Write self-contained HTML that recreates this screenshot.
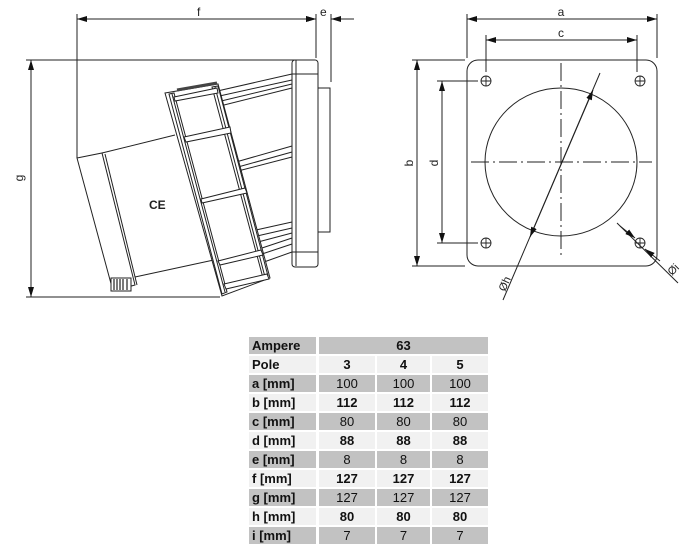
<!DOCTYPE html>
<html><head><meta charset="utf-8"><style>
body{margin:0;width:696px;height:556px;background:#fff;position:relative;overflow:hidden;font-family:"Liberation Sans",Arial,sans-serif}
.c{position:absolute;height:17px;line-height:17px;font-size:13px;color:#111;text-align:center}
.g{background:#c2c2c2}.l{background:#f1f1f1}
.lb{text-align:left;padding-left:3px;font-weight:bold;box-sizing:border-box}
.b{font-weight:bold}
</style></head><body>
<svg width="696" height="556" style="position:absolute;left:0;top:0" fill="none" stroke="#222" stroke-width="1">
<defs><marker id="ar" viewBox="0 0 10 6" refX="10" refY="3" markerWidth="10" markerHeight="6" orient="auto-start-reverse" markerUnits="userSpaceOnUse"><path d="M0,0L10,3L0,6z" fill="#111" stroke="none"/></marker></defs>
<!-- left dims -->
<line x1="77" y1="14" x2="77" y2="158"/>
<line x1="316" y1="14" x2="316" y2="58"/>
<line x1="331" y1="14" x2="331" y2="82"/>
<line x1="77" y1="19" x2="316" y2="19" marker-start="url(#ar)" marker-end="url(#ar)"/>
<line x1="305" y1="19" x2="316" y2="19" marker-end="url(#ar)"/>
<line x1="354" y1="19" x2="331" y2="19" marker-end="url(#ar)"/>
<line x1="26" y1="60" x2="314" y2="60"/>
<line x1="26" y1="297" x2="220" y2="297"/>
<line x1="31" y1="60" x2="31" y2="297" marker-start="url(#ar)" marker-end="url(#ar)"/>
<text x="197" y="16" font-size="12" fill="#222" stroke="none">f</text>
<text x="320" y="16" font-size="12" fill="#222" stroke="none">e</text>
<text x="23" y="178" font-size="12" fill="#222" stroke="none" transform="rotate(-90 23 178)" text-anchor="middle">g</text>
<!-- body -->
<polygon points="77,158 102,153 135,285 113,291"/>
<line x1="102" y1="153" x2="175" y2="135"/>
<line x1="105" y1="154" x2="137" y2="285"/>
<line x1="135" y1="277" x2="223" y2="258"/>
<rect x="111" y="278" width="20" height="13" fill="#fff" stroke="#222"/>
<path d="M114,279v11M117,279v11M120,279v11M123,279v11M127,279v11" stroke-width="1.2"/>
<text x="149" y="209" font-size="12" font-weight="bold" fill="#222" stroke="none">CE</text>
<!-- ribs -->
<path d="M213,92L292,74M215,97L292,80M217,102L292,84M220,106L292,88M236,162L292,146M238,167L292,152M238,171L292,157M256,230L292,222M257,236L292,228M258,242L292,233M262,248L292,238M262,254L292,244M264,262L292,252"/>
<!-- ladder -->
<polygon points="165,93 218,84 270,278 222,296" fill="#fff"/>
<polygon points="169,94 174,93 227,292 222,294"/>
<polygon points="212,87 218,86 268,276 263,278"/>
<line x1="172" y1="94" x2="225" y2="292"/>
<line x1="215" y1="87" x2="265" y2="277"/>
<path d="M174,97L217,88L218,93L175,101z M184,137L230,127L231,133L186,142z M201,199L245,188L247,193L202,203z M218,261L261,250L263,255L220,265z M224,284L267,274L269,279L226,289z" fill="#fff"/>
<path d="M177,90L217,83" stroke-width="3" stroke="#444"/>
<!-- plate -->
<rect x="292" y="60" width="26" height="207" rx="3" fill="#fff"/>
<line x1="296" y1="60" x2="296" y2="266"/>
<line x1="292" y1="74" x2="318" y2="74"/>
<line x1="292" y1="252" x2="318" y2="252"/>
<rect x="318" y="88" width="12" height="144"/>
<!-- right view -->
<rect x="467" y="60" width="190" height="206" rx="11"/>
<ellipse cx="561" cy="162" rx="76" ry="74"/>
<line x1="561" y1="63" x2="561" y2="258" stroke-dasharray="18,4,2,4"/>
<line x1="471" y1="162" x2="652" y2="162" stroke-dasharray="18,4,2,4"/>
<g stroke-width="0.9">
<circle cx="486" cy="81" r="5"/><path d="M481,81h10M486,76v10"/>
<circle cx="640" cy="81" r="5"/><path d="M635,81h10M640,76v10"/>
<circle cx="486" cy="243" r="5"/><path d="M481,243h10M486,238v10"/>
<circle cx="640" cy="243" r="5"/><path d="M635,243h10M640,238v10"/>
</g>
<line x1="467" y1="14" x2="467" y2="58"/>
<line x1="657" y1="14" x2="657" y2="58"/>
<line x1="467" y1="19" x2="657" y2="19" marker-start="url(#ar)" marker-end="url(#ar)"/>
<line x1="486" y1="35" x2="486" y2="72"/>
<line x1="637" y1="35" x2="637" y2="72"/>
<line x1="486" y1="40" x2="637" y2="40" marker-start="url(#ar)" marker-end="url(#ar)"/>
<line x1="412" y1="60" x2="465" y2="60"/>
<line x1="412" y1="266" x2="465" y2="266"/>
<line x1="417" y1="60" x2="417" y2="266" marker-start="url(#ar)" marker-end="url(#ar)"/>
<line x1="437" y1="81" x2="478" y2="81"/>
<line x1="437" y1="243" x2="478" y2="243"/>
<line x1="442" y1="81" x2="442" y2="243" marker-start="url(#ar)" marker-end="url(#ar)"/>
<line x1="503" y1="300" x2="600" y2="73"/>
<line x1="530" y1="237" x2="593" y2="90" marker-start="url(#ar)" marker-end="url(#ar)"/>
<line x1="617" y1="223" x2="678" y2="283"/>
<line x1="620" y1="226" x2="635" y2="238" marker-end="url(#ar)"/>
<line x1="660" y1="261" x2="645" y2="249" marker-end="url(#ar)"/>
<text x="561" y="16" font-size="12" fill="#222" stroke="none" text-anchor="middle">a</text>
<text x="561" y="37" font-size="12" fill="#222" stroke="none" text-anchor="middle">c</text>
<text x="413" y="163" font-size="12" fill="#222" stroke="none" transform="rotate(-90 413 163)" text-anchor="middle">b</text>
<text x="438" y="163" font-size="12" fill="#222" stroke="none" transform="rotate(-90 438 163)" text-anchor="middle">d</text>
<text x="505" y="292" font-size="11" fill="#222" stroke="none" transform="rotate(-66 505 292)">Øh</text>
<text x="672" y="276" font-size="11" fill="#222" stroke="none" transform="rotate(-45 672 276)">Øi</text>
</svg>
<!-- table -->
<div class="c g lb" style="left:249px;top:337px;width:67px">Ampere</div>
<div class="c g b" style="left:319px;top:337px;width:169px">63</div>
<div class="c l lb" style="left:249px;top:356px;width:67px">Pole</div>
<div class="c l b" style="left:319px;top:356px;width:56px">3</div>
<div class="c l b" style="left:377px;top:356px;width:53px">4</div>
<div class="c l b" style="left:432px;top:356px;width:56px">5</div>

<div class="c g lb" style="left:249px;top:375px;width:67px">a [mm]</div>
<div class="c g" style="left:319px;top:375px;width:56px">100</div><div class="c g" style="left:377px;top:375px;width:53px">100</div><div class="c g" style="left:432px;top:375px;width:56px">100</div>
<div class="c l lb" style="left:249px;top:394px;width:67px">b [mm]</div>
<div class="c l b" style="left:319px;top:394px;width:56px">112</div><div class="c l b" style="left:377px;top:394px;width:53px">112</div><div class="c l b" style="left:432px;top:394px;width:56px">112</div>
<div class="c g lb" style="left:249px;top:413px;width:67px">c [mm]</div>
<div class="c g" style="left:319px;top:413px;width:56px">80</div><div class="c g" style="left:377px;top:413px;width:53px">80</div><div class="c g" style="left:432px;top:413px;width:56px">80</div>
<div class="c l lb" style="left:249px;top:432px;width:67px">d [mm]</div>
<div class="c l b" style="left:319px;top:432px;width:56px">88</div><div class="c l b" style="left:377px;top:432px;width:53px">88</div><div class="c l b" style="left:432px;top:432px;width:56px">88</div>
<div class="c g lb" style="left:249px;top:451px;width:67px">e [mm]</div>
<div class="c g" style="left:319px;top:451px;width:56px">8</div><div class="c g" style="left:377px;top:451px;width:53px">8</div><div class="c g" style="left:432px;top:451px;width:56px">8</div>
<div class="c l lb" style="left:249px;top:470px;width:67px">f [mm]</div>
<div class="c l b" style="left:319px;top:470px;width:56px">127</div><div class="c l b" style="left:377px;top:470px;width:53px">127</div><div class="c l b" style="left:432px;top:470px;width:56px">127</div>
<div class="c g lb" style="left:249px;top:489px;width:67px">g [mm]</div>
<div class="c g" style="left:319px;top:489px;width:56px">127</div><div class="c g" style="left:377px;top:489px;width:53px">127</div><div class="c g" style="left:432px;top:489px;width:56px">127</div>
<div class="c l lb" style="left:249px;top:508px;width:67px">h [mm]</div>
<div class="c l b" style="left:319px;top:508px;width:56px">80</div><div class="c l b" style="left:377px;top:508px;width:53px">80</div><div class="c l b" style="left:432px;top:508px;width:56px">80</div>
<div class="c g lb" style="left:249px;top:527px;width:67px">i [mm]</div>
<div class="c g" style="left:319px;top:527px;width:56px">7</div><div class="c g" style="left:377px;top:527px;width:53px">7</div><div class="c g" style="left:432px;top:527px;width:56px">7</div>
</body></html>
